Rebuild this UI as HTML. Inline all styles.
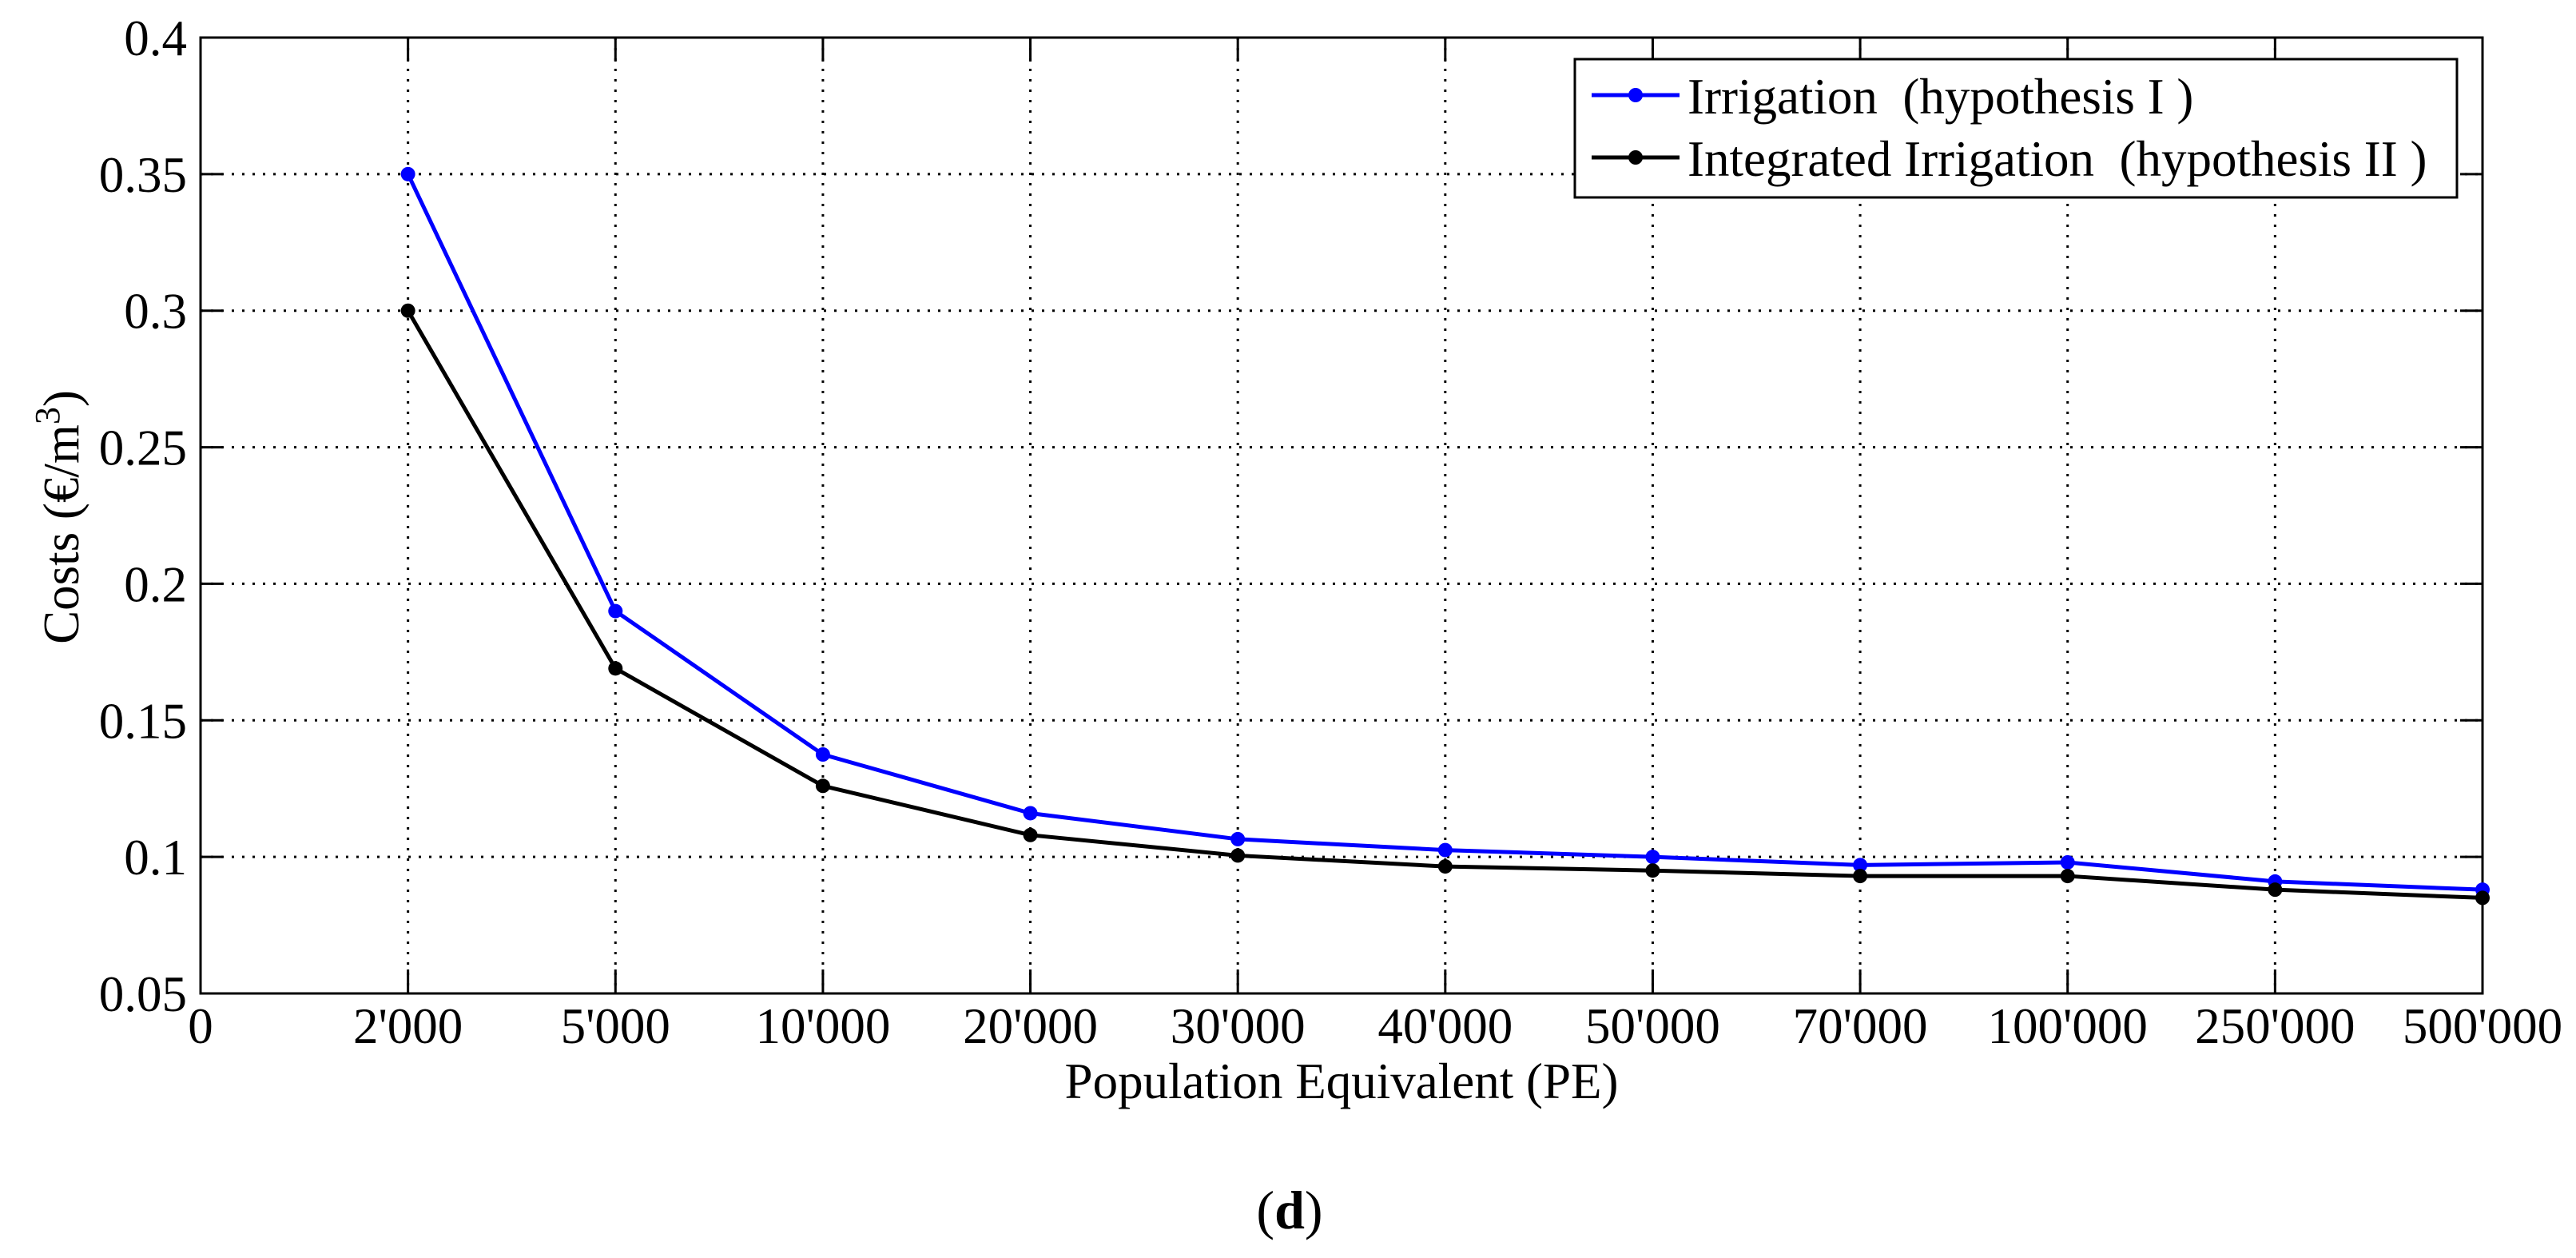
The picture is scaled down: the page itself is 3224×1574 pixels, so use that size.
<!DOCTYPE html>
<html><head><meta charset="utf-8"><style>
html,body{margin:0;padding:0;background:#fff;}
svg{display:block;font-family:"Liberation Serif",serif;}
</style></head><body>
<svg id="chart" width="3224" height="1574" viewBox="0 0 3224 1574" xmlns="http://www.w3.org/2000/svg">
<rect x="0" y="0" width="3224" height="1574" fill="#fff"/>
<g id="grid"></g>
<g id="axes"></g>
<g id="series"></g>
<g id="legend"></g>
<text x="1679" y="1374" font-size="63" text-anchor="middle">Population Equivalent (PE)</text>
<text transform="translate(98,647) rotate(-90)" font-size="63" text-anchor="middle">Costs (€/m<tspan font-size="44" dy="-24">3</tspan><tspan dy="24">)</tspan></text>
<text x="1614" y="1537" font-size="68" text-anchor="middle">(<tspan font-weight="bold">d</tspan>)</text>
</svg>
<script>
const categories = ["0","2'000","5'000","10'000","20'000","30'000","40'000","50'000","70'000","100'000","250'000","500'000"];
const irrigation = [0.350,0.190,0.1375,0.116,0.1065,0.1025,0.100,0.097,0.098,0.091,0.088];
const integrated = [0.300,0.169,0.126,0.108,0.1005,0.0965,0.095,0.093,0.093,0.088,0.085];
const yTicks = [0.05,0.1,0.15,0.2,0.25,0.3,0.35,0.4];
const yTickLabels = ["0.05","0.1","0.15","0.2","0.25","0.3","0.35","0.4"];
const legendLabels = ["Irrigation\u00a0\u00a0(hypothesis I\u00a0)","Integrated Irrigation\u00a0\u00a0(hypothesis II\u00a0)"];

const NS="http://www.w3.org/2000/svg";
const L=251,R=3107,T=47,B=1243;
const yMin=0.05,yMax=0.4;
function xs(i){return L+(R-L)*i/(categories.length-1);}
function ys(v){return B-(v-yMin)/(yMax-yMin)*(B-T);}
function mk(tag,attrs,parent){const e=document.createElementNS(NS,tag);for(const k in attrs)e.setAttribute(k,attrs[k]);parent.appendChild(e);return e;}
const grid=document.getElementById('grid'),axes=document.getElementById('axes'),ser=document.getElementById('series'),leg=document.getElementById('legend');

categories.forEach((c,i)=>{
  const x=xs(i);
  if(i>0&&i<categories.length-1){
    const g=mk('line',{x1:x,y1:T,x2:x,y2:B,stroke:'#000','stroke-width':3,'stroke-dasharray':'3 10'},grid);
    
    
    const t1=mk('line',{x1:x,y1:B,x2:x,y2:B-30,stroke:'#000','stroke-width':3},axes);
    
    
    const t2=mk('line',{x1:x,y1:T,x2:x,y2:T+30,stroke:'#000','stroke-width':3},axes);
    
    
  }
  const lb=mk('text',{x:x,y:1305,'font-size':63,'text-anchor':'middle'},axes);
  lb.textContent=c;
  
  
});
yTicks.forEach((v,i)=>{
  const y=ys(v);
  if(i>0&&i<yTicks.length-1){
    const g=mk('line',{x1:L,y1:y,x2:R,y2:y,stroke:'#000','stroke-width':3,'stroke-dasharray':'3 10'},grid);
    
    
    const t1=mk('line',{x1:L,y1:y,x2:L+28,y2:y,stroke:'#000','stroke-width':3},axes);
    
    
    const t2=mk('line',{x1:R,y1:y,x2:R-28,y2:y,stroke:'#000','stroke-width':3},axes);
    
    
  }
  const lb=mk('text',{x:234,y:y+22,'font-size':63,'text-anchor':'end'},axes);
  lb.textContent=yTickLabels[i];
  
  
});
const frame=mk('rect',{x:L,y:T,width:R-L,height:B-T,fill:'none',stroke:'#000','stroke-width':3},axes);



function drawSeries(vals,color,name){
  const pts=vals.map((v,i)=>xs(i+1)+','+ys(v)).join(' ');
  const pl=mk('polyline',{points:pts,fill:'none',stroke:color,'stroke-width':5,'stroke-linejoin':'round'},ser);
  
  
  vals.forEach((v,i)=>{
    const c=mk('circle',{cx:xs(i+1),cy:ys(v),r:9,fill:color},ser);
    
    
  });
}
drawSeries(irrigation,'#0000ff','irrigation');
drawSeries(integrated,'#000000','integrated-irrigation');

const lbox=mk('rect',{x:1971,y:74,width:1104,height:173,fill:'#fff',stroke:'#000','stroke-width':3},leg);


const lcolors=['#0000ff','#000000'],lys=[119,197];
legendLabels.forEach((t,i)=>{
  const ln=mk('line',{x1:1992,y1:lys[i],x2:2102,y2:lys[i],stroke:lcolors[i],'stroke-width':5},leg);
  
  
  const c=mk('circle',{cx:2047,cy:lys[i],r:9,fill:lcolors[i]},leg);
  
  
  const tx=mk('text',{x:2112,y:lys[i]+23,'font-size':63},leg);
  tx.textContent=t;
  
  
});
</script>
</body></html>
